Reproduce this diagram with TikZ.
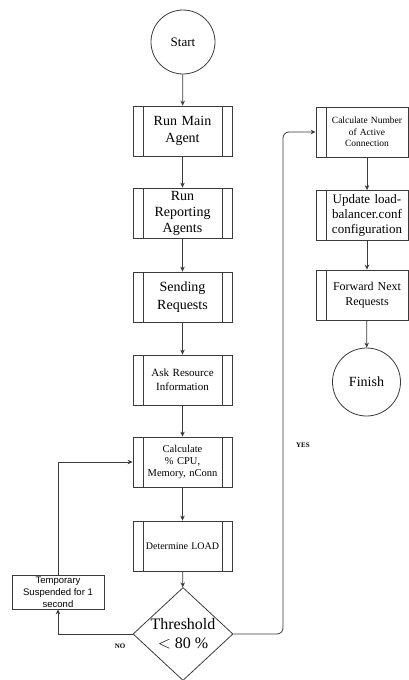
\documentclass[tikz,border=0pt]{standalone}
\usepackage{fontspec}
\setmainfont{Liberation Serif}
\newfontfamily\arialf{Liberation Sans}
\usetikzlibrary{shapes.geometric,arrows.meta}
\definecolor{ln}{HTML}{3A3A3A}
\tikzset{
  proc/.style={draw=ln, line width=0.8pt, rectangle, align=center, inner sep=1pt,
    minimum height=50pt, text=black,
    path picture={
      \draw[ln, line width=0.8pt] ([xshift=10pt]path picture bounding box.north west) -- ([xshift=10pt]path picture bounding box.south west);
      \draw[ln, line width=0.8pt] ([xshift=-10pt]path picture bounding box.north east) -- ([xshift=-10pt]path picture bounding box.south east);
    }},
  mainproc/.style={proc, minimum width=99pt, text width=76pt},
  rightproc/.style={proc, minimum width=102pt, text width=80pt},
  term/.style={draw=ln, line width=0.8pt, circle, align=center},
  arr/.style={draw=ln, line width=0.8pt, -{Stealth[length=5pt,width=4.5pt]}},
  lbl/.style={font=\bfseries\fontsize{7}{8}\selectfont}
}
\begin{document}
\begin{tikzpicture}[x=1pt,y=-1pt]
\useasboundingbox (0,0) rectangle (409,680);
\node[term, minimum size=64pt, font=\fontsize{13}{15}\selectfont] (start) at (183,42) {Start};
\node[mainproc, font=\fontsize{14}{17}\selectfont] (main) at (182.5,131) {Run Main\\Agent};
\node[mainproc, font=\fontsize{14}{16}\selectfont] (rep) at (182.5,213) {Run\\Reporting\\Agents};
\node[mainproc, font=\fontsize{14}{18}\selectfont] (send) at (182.5,297) {Sending\\Requests};
\node[mainproc, font=\fontsize{11}{14}\selectfont] (ask) at (182.5,380) {Ask Resource\\Information};
\node[mainproc, font=\fontsize{10.5}{12}\selectfont] (calc) at (182.5,462) {Calculate\\\% CPU,\\Memory, nConn};
\node[mainproc, text width=80pt, font=\fontsize{10}{12}\selectfont] (det) at (182.5,546) {Determine LOAD};
\node[draw=ln, line width=0.8pt, diamond, aspect=1.08, minimum width=100pt, minimum height=93pt, inner sep=0pt, align=center, font=\fontsize{16}{19}\selectfont] (thr) at (183,634) {Threshold\\$<$ 80 \%};
\node[draw=ln, line width=0.8pt, rectangle, minimum width=92pt, minimum height=34pt, inner sep=1pt, align=center, font=\arialf\fontsize{9.5}{12}\selectfont] (temp) at (58,592) {Temporary\\Suspended for 1\\second};
\node[rightproc, font=\fontsize{9.5}{11.5}\selectfont] (num) at (367,132) {Calculate Number\\of Active\\Connection};
\node[rightproc, font=\fontsize{13}{15}\selectfont] (upd) at (367,215.5) {Update load-\\balancer.conf\\configuration};
\node[rightproc, font=\fontsize{12}{15}\selectfont] (fwd) at (367,295) {Forward Next\\Requests};
\node[term, minimum size=68pt, font=\fontsize{14}{16}\selectfont] (fin) at (366.5,382) {Finish};
\draw[arr] (start) -- (main);
\draw[arr] (main) -- (rep);
\draw[arr] (rep) -- (send);
\draw[arr] (send) -- (ask);
\draw[arr] (ask) -- (calc);
\draw[arr] (calc) -- (det);
\draw[arr] (det) -- (thr);
\draw[arr] (num) -- (upd);
\draw[arr] (upd) -- (fwd);
\draw[arr] (fwd) -- (fin);
\draw[arr] (thr.west) -| (temp.south);
\draw[arr] (temp.north) |- (calc.west);
\draw[arr, rounded corners=6pt] (thr.east) -- (283,634) -- (283,132) -- (num.west);
\node[lbl] (no) at (120,646) {NO};
\node[lbl] (yes) at (303,445) {YES};
\end{tikzpicture}
\end{document}
